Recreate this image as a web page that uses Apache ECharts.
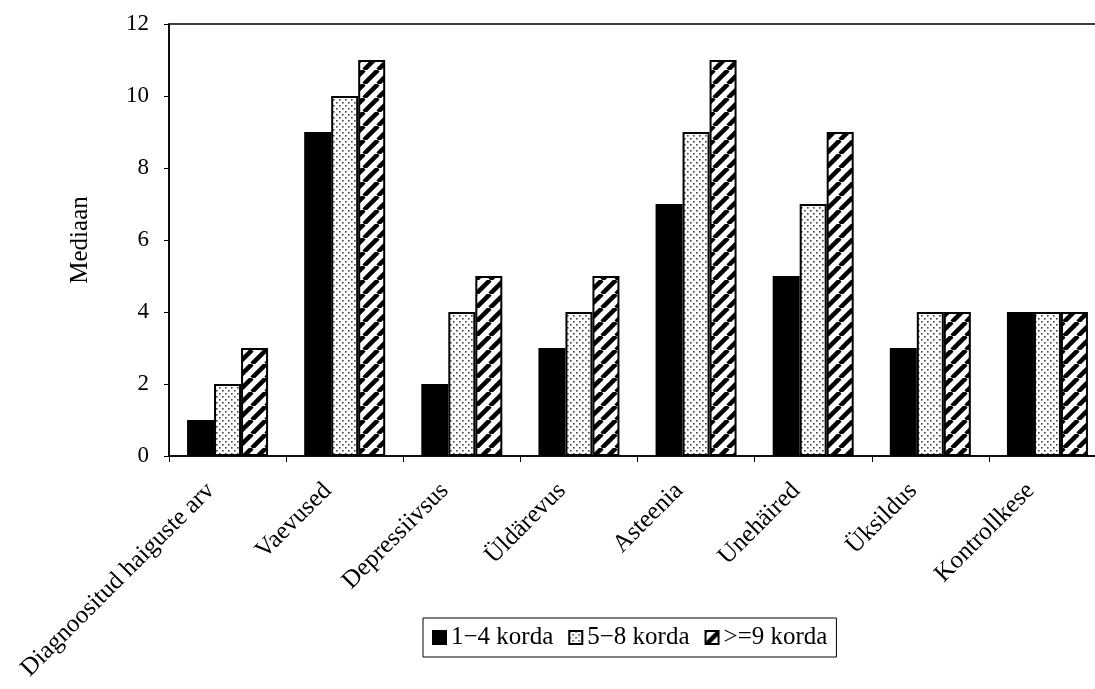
<!DOCTYPE html>
<html>
<head>
<meta charset="utf-8">
<script src="https://cdn.jsdelivr.net/npm/echarts@6/dist/echarts.min.js"></script>
<style>html,body{margin:0;padding:0;background:#fff}#c{width:1095px;height:689px}</style>
</head>
<body>
<div id="c"></div>
<script>
const categories = ['Diagnoositud haiguste arv', 'Vaevused', 'Depressiivsus', 'Üldärevus', 'Asteenia', 'Unehäired', 'Üksildus', 'Kontrollkese'];
const seriesNames = ['1\u22124 korda', '5\u22128 korda', '>=9 korda'];
const s1 = [1, 9, 2, 3, 7, 5, 3, 4];
const s2 = [2, 10, 4, 4, 9, 7, 4, 4];
const s3 = [3, 11, 5, 5, 11, 9, 4, 4];
const yTicks = [0, 2, 4, 6, 8, 10, 12];

function dotPattern() {
  const c = document.createElement('canvas');
  c.width = 6; c.height = 6;
  const g = c.getContext('2d');
  g.fillStyle = '#fff'; g.fillRect(0, 0, 6, 6);
  g.fillStyle = '#444';
  g.fillRect(0, 0, 1.6, 1.6);
  g.fillRect(3, 3, 1.6, 1.6);
  return c;
}
function hatchPattern() {
  const s = 14;
  const c = document.createElement('canvas');
  c.width = s; c.height = s;
  const g = c.getContext('2d');
  g.fillStyle = '#fff'; g.fillRect(0, 0, s, s);
  g.strokeStyle = '#000'; g.lineWidth = 4.5;
  for (let k = -1; k <= 1; k++) {
    g.beginPath();
    g.moveTo(k * s, s);
    g.lineTo(k * s + s, 0);
    g.stroke();
  }
  return c;
}
const fills = ['#000', { image: dotPattern(), repeat: 'repeat' }, { image: hatchPattern(), repeat: 'repeat' }];
const datas = [s1, s2, s3];
const font = 'Liberation Serif';

const chart = echarts.init(document.getElementById('c'), null, { renderer: 'canvas' });
chart.setOption({
  animation: false,
  backgroundColor: '#fff',
  textStyle: { fontFamily: font, color: '#000' },
  grid: { left: 169, top: 24, width: 937, height: 432, show: true, borderColor: '#000', borderWidth: 1.5, backgroundColor: 'transparent', outerBoundsMode: 'none', containLabel: false },
  legend: {
    data: seriesNames,
    left: 423, top: 618,
    orient: 'horizontal',
    borderColor: '#000', borderWidth: 1,
    padding: [7, 9, 7, 9],
    itemGap: 15,
    itemWidth: 13, itemHeight: 13,
    icon: 'rect',
    textStyle: { fontFamily: font, fontSize: 25, color: '#000', padding: [0, 0, 0, 0] }
  },
  xAxis: {
    type: 'category',
    data: categories,
    boundaryGap: true,
    axisLine: { lineStyle: { color: '#000', width: 1.5 } },
    axisTick: { show: true, alignWithLabel: false, length: 6, lineStyle: { color: '#000' } },
    axisLabel: { rotate: 45, interval: 0, margin: 14, padding: [0, 24, 22, 0], fontFamily: font, fontSize: 25, color: '#000' }
  },
  yAxis: {
    type: 'value',
    min: yTicks[0], max: yTicks[yTicks.length - 1], interval: 2,
    name: 'Mediaan',
    nameLocation: 'middle',
    nameGap: 76,
    nameRotate: 90,
    nameTextStyle: { fontFamily: font, fontSize: 25, color: '#000' },
    axisLine: { show: true, lineStyle: { color: '#000', width: 1.5 } },
    axisTick: { show: true, length: 5, lineStyle: { color: '#000' } },
    splitLine: { show: false },
    axisLabel: { margin: 20, fontFamily: font, fontSize: 23, color: '#000' }
  },
  series: seriesNames.map((n, i) => ({
    name: n,
    type: 'bar',
    data: datas[i],
    barWidth: 27,
    barGap: '0%',
    itemStyle: { color: fills[i], borderColor: '#000', borderWidth: 2 }
  }))
});
</script>
</body>
</html>
